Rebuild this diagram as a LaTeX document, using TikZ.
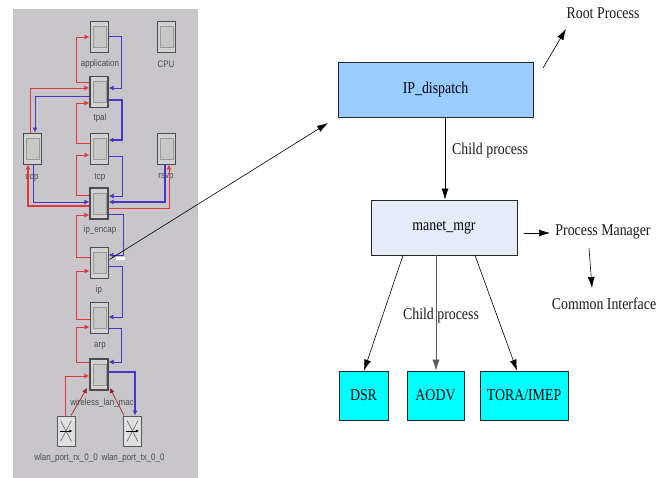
\documentclass[tikz,border=0pt]{standalone}
\usepackage{fontspec}
\setmainfont{Liberation Serif}
\newfontfamily\labelfont{Liberation Sans}
\usetikzlibrary{arrows.meta,calc}
\definecolor{panelgray}{HTML}{C8C6CA}
\definecolor{modgray}{HTML}{D2D2D2}
\definecolor{innergray}{HTML}{C6C8C6}
\definecolor{redl}{HTML}{E0383C}
\definecolor{bluel}{HTML}{4A34C8}
\definecolor{darkred}{HTML}{A02028}
\definecolor{cyanbox}{RGB}{0,255,255}
\newcommand{\cond}[1]{\scalebox{0.84}[1]{#1}}
\newcommand{\lcond}[1]{\scalebox{0.84}[1]{#1}}
\tikzset{
  x=1pt,y=-1pt,
  module/.style={draw=black!70,fill=modgray,line width=0.9pt,minimum width=18pt,minimum height=31pt,inner sep=0pt,
    path picture={\draw[black!40,fill=innergray,line width=0.7pt] ([shift={(3pt,-5pt)}]path picture bounding box.north west) rectangle ([shift={(-2pt,5pt)}]path picture bounding box.south east);}},
  port/.style={draw=black!65,fill=black!12,line width=0.9pt,minimum width=18pt,minimum height=30pt,inner sep=0pt},
  modlabel/.style={font=\labelfont\fontsize{9.5}{10}\selectfont,text=black!70,inner sep=0pt},
  rline/.style={draw=redl,line width=0.9pt,-{Latex[length=5pt,width=5pt]}},
  bline/.style={draw=bluel,line width=0.9pt,-{Latex[length=5pt,width=5pt]}},
  rthick/.style={rline,line width=1.5pt},
  bthick/.style={bline,line width=1.1pt},
  drline/.style={draw=darkred,line width=0.7pt,-{Latex[length=5pt,width=5pt]}},
  procbox/.style={draw=black!85,line width=0.7pt,inner sep=0pt,font=\fontsize{16.5}{18}\selectfont},
  note/.style={inner sep=0pt,font=\fontsize{16.5}{18}\selectfont,text=black!90},
  arr/.style={draw=black,line width=0.6pt,-{Latex[length=11pt,width=7pt]}},
}
\begin{document}
\begin{tikzpicture}
\useasboundingbox (0,0) rectangle (668,478);
\fill[panelgray] (13,9) rectangle (198,478);
% modules
\node[module] (application) at (99,36.5) {};
\node[module] (cpu) at (166.5,36.5) {};
\node[module,line width=1.2pt] (tpal) at (99,92) {};
\node[module] (udp) at (32,148.5) {};
\node[module] (tcp) at (99,148.5) {};
\node[module] (rsvp) at (166.5,148.5) {};
\node[module,line width=1.2pt] (ipencap) at (99,203.5) {};
\node[module] (ip) at (99,262.5) {};
\node[module] (arp) at (99,317.5) {};
\node[module,line width=1.2pt] (wlan) at (99,374.5) {};
\node[port] (rx) at (66,431) {};
\node[port] (tx) at (132.5,431) {};
\foreach \n in {rx,tx}{
  \draw[black!60,line width=0.6pt] ($(\n.north west)+(4,5)$) -- ($(\n.south east)+(-4,-5)$);
  \draw[black!60,line width=0.6pt] ($(\n.north east)+(-4,5)$) -- ($(\n.south west)+(4,-5)$);
  \draw[black,line width=1pt,-{Latex[length=3pt,width=3pt]}] ($(\n.west)+(3,0)$) -- ($(\n.east)+(-3,0)$);
}
% labels
\node[modlabel] (l1) at (100,64) {\lcond{application}};
\node[modlabel] (l2) at (166,64) {\lcond{CPU}};
\node[modlabel] (l3) at (100,118) {\lcond{tpal}};
\node[modlabel] (l4) at (32,177) {\lcond{udp}};
\node[modlabel] (l5) at (100,177) {\lcond{tcp}};
\node[modlabel] (l6) at (166,177) {\lcond{rsvp}};
\node[modlabel] (l7) at (100,230) {\lcond{ip\_encap}};
\node[modlabel] (l8) at (99,290) {\lcond{ip}};
\node[modlabel] (l9) at (100,346) {\lcond{arp}};
\node[modlabel] (l10) at (102,403) {\lcond{wireless\_lan\_mac}};
\node[modlabel] (l11) at (66,458) {\lcond{wlan\_port\_rx\_0\_0}};
\node[modlabel] (l12) at (133,458) {\lcond{wlan\_port\_tx\_0\_0}};
% red/blue wiring
\draw[rline] (tpal.west |- 0,82) -- (76,82) -- (76,37) -- (application.west |- 0,37);
\draw[bline] (application.east |- 0,36) -- (121,36) -- (121,88) -- (tpal.east |- 0,88);
\draw[rline] (udp.north -| 30,0) -- (30,88) -- (tpal.west |- 0,88);
\draw[bline] (tpal.west |- 0,96) -- (35,96) -- (udp.north -| 35,0);
\draw[rline] (tcp.west |- 0,143) -- (76,143) -- (76,103) -- (tpal.west |- 0,103);
\draw[bthick] (tpal.east |- 0,100) -- (122,100) -- (122,140) -- (tcp.east |- 0,140);
\draw[rline] (ipencap.west |- 0,195) -- (76,195) -- (76,155) -- (tcp.west |- 0,155);
\draw[bline] (tcp.east |- 0,156) -- (122,156) -- (122,196) -- (ipencap.east |- 0,196);
\draw[rthick] (ipencap.west |- 0,206) -- (28,206) -- (udp.south -| 28,0);
\draw[bline] (udp.south -| 33,0) -- (33,202) -- (ipencap.west |- 0,202);
\draw[bthick] (rsvp.south -| 165,0) -- (165,202) -- (ipencap.east |- 0,202);
\draw[rline] (ipencap.east |- 0,208) -- (169,208) -- (rsvp.south -| 169,0);
\draw[rline] (ip.west |- 0,257) -- (76,257) -- (76,215) -- (ipencap.west |- 0,215);
\draw[bline] (ipencap.east |- 0,214) -- (123,214) -- (123,255) -- (ip.east |- 0,255);
\draw[rline] (arp.west |- 0,319) -- (76,319) -- (76,271) -- (ip.west |- 0,271);
\draw[bline] (ip.east |- 0,266) -- (122,266) -- (122,317) -- (arp.east |- 0,317);
\draw[rline] (wlan.west |- 0,362) -- (76,362) -- (76,327) -- (arp.west |- 0,327);
\draw[bline] (arp.east |- 0,328) -- (121,328) -- (121,362) -- (wlan.east |- 0,362);
\draw[rline] (rx.north -| 65,0) -- (65,376) -- (wlan.west |- 0,376);
\draw[drline] (rx.north -| 71,0) -- (87,388);
\draw[bthick] (wlan.east |- 0,372) -- (135,372) -- (tx.north -| 135,0);
\draw[drline] (tx.north -| 124,0) -- (110,388);
% small white mark
\fill[white] (116,257) rectangle (125,259.5);
% process boxes
\node[procbox,fill={rgb,255:red,153;green,204;blue,255},minimum width=195pt,minimum height=55pt] (dispatch) at (435.5,89.5) {\cond{IP\_dispatch}};
\node[procbox,fill={rgb,255:red,230;green,236;blue,247},minimum width=146pt,minimum height=55pt] (mgr) at (444,227.5) {\cond{manet\_mgr}};
\node[procbox,fill=cyanbox,minimum width=49pt,minimum height=49pt] (dsr) at (363.5,395.5) {\cond{DSR}};
\node[procbox,fill=cyanbox,minimum width=57pt,minimum height=49pt] (aodv) at (435.5,395.5) {\cond{AODV}};
\node[procbox,fill=cyanbox,minimum width=88pt,minimum height=49pt] (tora) at (524,395.5) {\cond{TORA/IMEP}};
\node[note] (root) at (603,13) {\cond{Root Process}};
\node[note] (pm) at (603,232) {\cond{Process Manager}};
\node[note] (ci) at (604,304) {\cond{Common Interface}};
\node[note] (c1) at (490,151) {\cond{Child process}};
\node[note] (c2) at (441,316) {\cond{Child process}};
\coordinate (bigend) at (328,123);
\coordinate (rootstart) at (543,68);
\coordinate (rootend) at (566,29);
\coordinate (pmstart) at (524,233);
\coordinate (pmend) at (550,233);
\coordinate (cistart) at (589,248);
\coordinate (ciend) at (592,288);
\draw[arr] (ip.east) ++(1,-3) -- (bigend);
\draw[arr] (rootstart) -- (rootend);
\draw[arr] (pmstart) -- (pmend);
\draw[arr] (cistart) -- (ciend);
\draw[arr] (dispatch.south -| 445,0) -- (mgr.north -| 445,0);
\draw[arr] (mgr.south -| 403,0) -- (dsr.north -| 364,0);
\draw[arr,draw=black!65] (mgr.south -| 436,0) -- (aodv.north -| 436,0);
\draw[arr] (mgr.south -| 475,0) -- (tora.north -| 517,0);
\end{tikzpicture}
\end{document}
